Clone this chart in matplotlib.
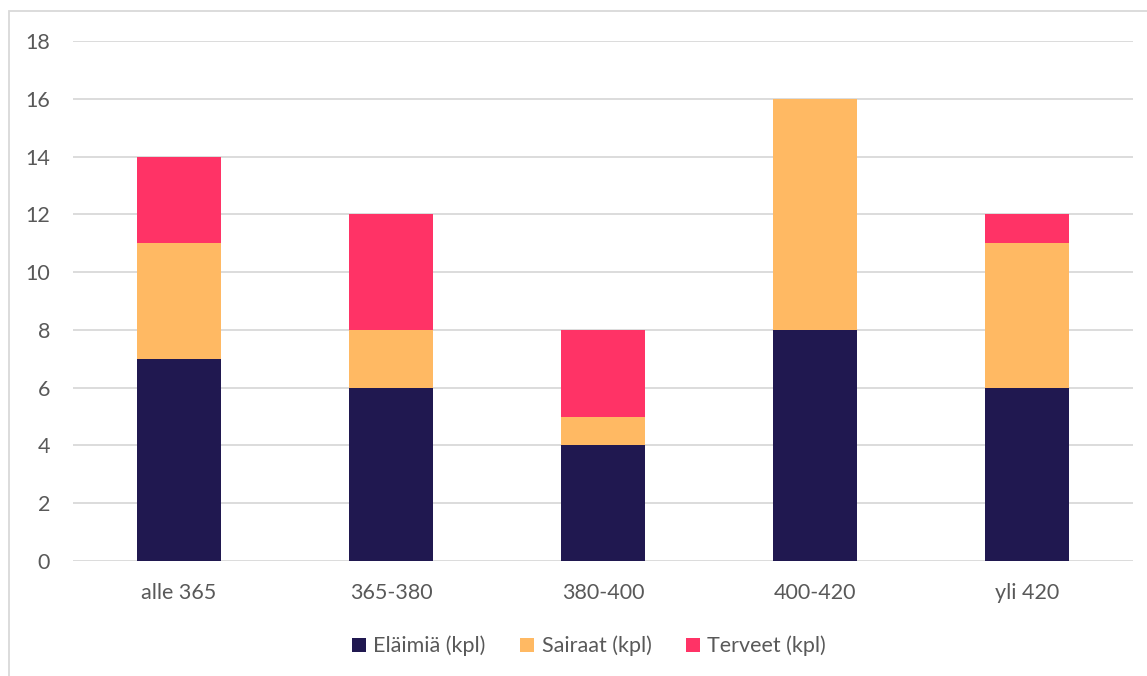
import matplotlib
matplotlib.use("Agg")
import matplotlib.pyplot as plt
from matplotlib.patches import Rectangle
import numpy as np

categories = ["alle 365", "365-380", "380-400", "400-420", "yli 420"]
elaimia = [7, 6, 4, 8, 6]
sairaat = [4, 2, 1, 8, 5]
terveet = [3, 4, 3, 0, 1]
series_names = ["Eläimiä (kpl)", "Sairaat (kpl)", "Terveet (kpl)"]
colors = ["#201850", "#FFB963", "#FF3366"]
yticks = list(range(0, 20, 2))

plt.rcParams['font.family'] = ['Lato', 'DejaVu Sans']

W, H = 1147, 676
fig = plt.figure(figsize=(W / 100, H / 100), dpi=100)
ax = fig.add_axes([73 / W, 1 - 561 / H, (1133 - 73) / W, (561 - 41) / H])

# chart border
fig.patches.append(Rectangle((9 / W, -0.1), 1.2, 1 - 11 / H + 0.1, transform=fig.transFigure,
                             fill=False, edgecolor="#D9D9D9", linewidth=1.3))

x = np.arange(len(categories))
bw = 0.4
bottom = np.zeros(len(categories))
for vals, name, c in zip([elaimia, sairaat, terveet], series_names, colors):
    ax.bar(x, vals, bw, bottom=bottom, color=c, label=name, zorder=3)
    bottom += np.array(vals)

ax.set_xlim(-0.5, len(categories) - 0.5)
ax.set_ylim(0, 18)
ax.set_yticks(yticks)
ax.set_xticks(x)
ax.set_xticklabels(categories)
ax.grid(axis="y", color="#D9D9D9", linewidth=1.3, zorder=0)
for s in ax.spines.values():
    s.set_visible(False)
ax.tick_params(axis="both", length=0, labelsize=15.5, colors="#595959")
ax.tick_params(axis="y", pad=16.5)
ax.tick_params(axis="x", pad=15.5)

leg = fig.legend(loc="center", bbox_to_anchor=(589 / W, 1 - 646 / H), ncol=3, frameon=False,
                 fontsize=15.5, handlelength=0.65, handleheight=0.65, handletextpad=0.35,
                 columnspacing=1.6)
for t in leg.get_texts():
    t.set_color("#595959")

fig.savefig("out.png", dpi=100)
